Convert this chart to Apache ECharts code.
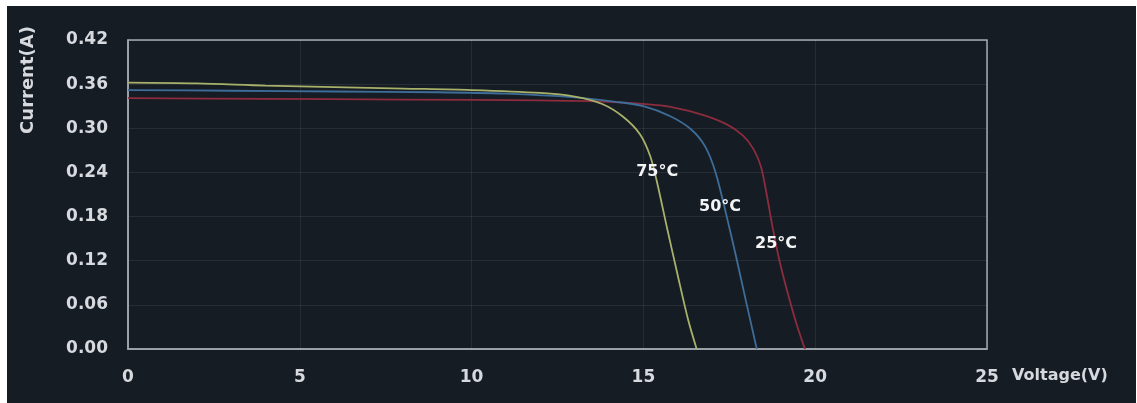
<!DOCTYPE html>
<html>
<head>
<meta charset="utf-8">
<script src="https://cdn.jsdelivr.net/npm/echarts@6/dist/echarts.min.js"></script>
<style>
  html, body { margin: 0; padding: 0; background: #ffffff; }
  #wrap { position: relative; width: 1137px; height: 403px; background: #ffffff; overflow: hidden; }
  #panel { position: absolute; left: 7px; top: 6px; right: 1px; bottom: 0; background: #161c24; }
  #chart { position: absolute; left: 0; top: 0; width: 1137px; height: 403px; }
</style>
</head>
<body>
<div id="wrap">
  <div id="panel"></div>
  <div id="chart"></div>
</div>
<script>
// I-V curves of the panel at three cell temperatures
const xTicks = [0, 5, 10, 15, 20, 25];
const yTicks = [0.00, 0.06, 0.12, 0.18, 0.24, 0.30, 0.36, 0.42];

const v25 = [0, 4, 8, 12, 14, 15.5, 16.6, 17.4, 17.9, 18.2, 18.42, 18.58, 18.75, 18.95, 19.2, 19.45, 19.7];
const i25 = [0.341, 0.340, 0.339, 0.338, 0.336, 0.331, 0.320, 0.306, 0.290, 0.272, 0.248, 0.212, 0.168, 0.122, 0.076, 0.035, 0.0];

const v50 = [0, 3, 6, 9, 11, 13, 14.2, 15, 15.8, 16.4, 16.8, 17.1, 17.4, 17.7, 18.0, 18.3];
const i50 = [0.352, 0.351, 0.350, 0.349, 0.347, 0.342, 0.336, 0.330, 0.316, 0.298, 0.275, 0.240, 0.185, 0.125, 0.062, 0.0];

const v75 = [0, 2, 4, 6, 8, 10, 12, 13, 13.8, 14.4, 14.9, 15.2, 15.4, 15.7, 16.0, 16.3, 16.55];
const i75 = [0.362, 0.361, 0.358, 0.356, 0.354, 0.352, 0.348, 0.343, 0.333, 0.316, 0.292, 0.262, 0.226, 0.162, 0.100, 0.040, 0.0];

// where each temperature tag sits, in axis units
const tagNames = ['25°C', '50°C', '75°C'];
const tagV = [18.86, 17.23, 15.40];
const tagI = [0.143, 0.193, 0.241];

const FONT = 'DejaVu Sans';
const pair = (xs, ys) => xs.map((x, k) => [x, ys[k]]);

function curve(name, xs, ys, color, tagIdx) {
  return {
    name: name,
    type: 'line',
    data: pair(xs, ys),
    smooth: 0.3,
    showSymbol: false,
    symbol: 'none',
    lineStyle: { color: color, width: 1.8 },
    markPoint: {
      symbol: 'circle',
      symbolSize: 0,
      silent: true,
      label: {
        show: true,
        position: 'inside',
        color: '#f2f4f6',
        fontFamily: FONT,
        fontWeight: 'bold',
        fontSize: 16,
        formatter: tagNames[tagIdx]
      },
      data: [{ coord: [tagV[tagIdx], tagI[tagIdx]] }]
    }
  };
}

const chart = echarts.init(document.getElementById('chart'), null, { renderer: 'canvas' });
chart.setOption({
  backgroundColor: 'transparent',
  animation: false,
  grid: {
    left: 128, right: 150, top: 40, bottom: 54,
    show: true,
    borderColor: '#a4a9af',
    borderWidth: 1.5,
    backgroundColor: 'transparent'
  },
  xAxis: {
    type: 'value',
    min: xTicks[0], max: xTicks[xTicks.length - 1], interval: 5,
    axisLine: { show: true, lineStyle: { color: '#a4a9af', width: 1.5 } },
    axisTick: { show: false },
    splitLine: { show: true, lineStyle: { color: 'rgba(255,255,255,0.07)', width: 1 } },
    axisLabel: {
      margin: 20,
      color: '#d6d9dd',
      fontFamily: FONT, fontWeight: 'bold', fontSize: 17
    }
  },
  yAxis: {
    type: 'value',
    min: yTicks[0], max: yTicks[yTicks.length - 1], interval: 0.06,
    axisLine: { show: true, lineStyle: { color: '#a4a9af', width: 1.5 } },
    axisTick: { show: false },
    splitLine: { show: true, lineStyle: { color: 'rgba(255,255,255,0.08)', width: 1 } },
    axisLabel: {
      margin: 20,
      color: '#d6d9dd',
      fontFamily: FONT, fontWeight: 'bold', fontSize: 17,
      formatter: v => v.toFixed(2)
    }
  },
  graphic: [
    {
      type: 'text',
      left: 1012, top: 368,
      style: {
        text: 'Voltage(V)',
        fill: '#d6d9dd',
        font: 'bold 16px "' + FONT + '"'
      }
    },
    {
      type: 'text',
      x: 28, y: 80,
      rotation: Math.PI / 2,
      style: {
        text: 'Current(A)',
        fill: '#d6d9dd',
        font: 'bold 18px "' + FONT + '"',
        align: 'center',
        verticalAlign: 'middle'
      }
    }
  ],
  series: [
    curve('25°C', v25, i25, '#8c2c3e', 0),
    curve('50°C', v50, i50, '#3d6d98', 1),
    curve('75°C', v75, i75, '#a8b16a', 2)
  ]
});
</script>
</body>
</html>
